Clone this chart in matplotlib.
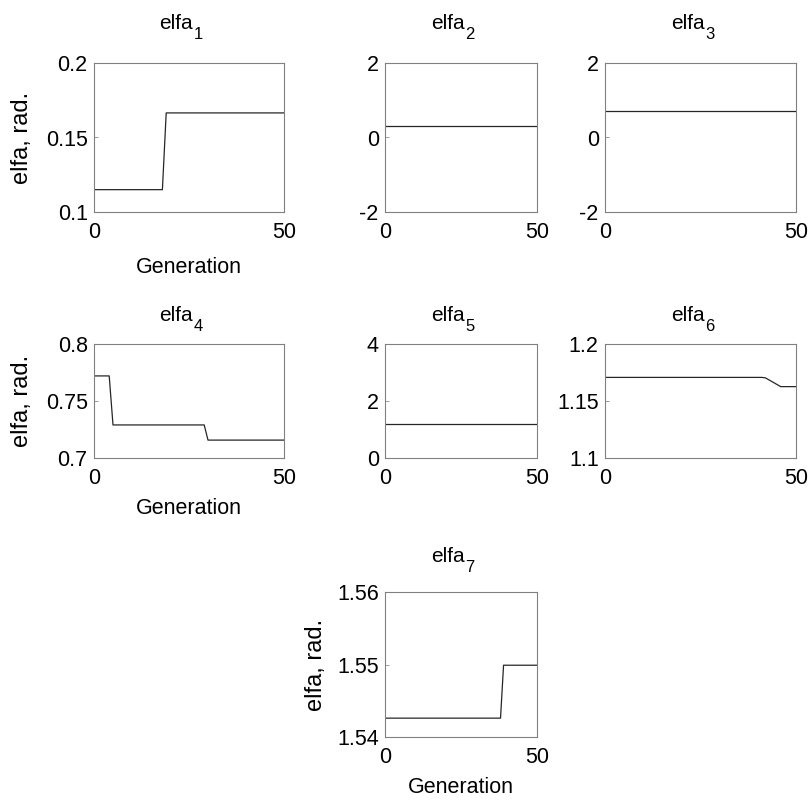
# elfa angles vs generation, 7 small panels in MATLAB style
import matplotlib
matplotlib.use("Agg")
import matplotlib.pyplot as plt

plt.rcParams['font.family'] = ['Liberation Sans', 'DejaVu Sans']

# polyline vertices (generation, value)
gen1 = [0, 18, 19, 50]
elfa1 = [0.115, 0.115, 0.1665, 0.1665]
gen2 = [0, 50]
elfa2 = [0.31, 0.31]
gen3 = [0, 50]
elfa3 = [0.70, 0.70]
gen4 = [0, 4, 5, 29, 30, 50]
elfa4 = [0.772, 0.772, 0.729, 0.729, 0.7157, 0.7157]
gen5 = [0, 50]
elfa5 = [1.2, 1.2]
gen6 = [0, 41, 42, 46, 50]
elfa6 = [1.1707, 1.1707, 1.1703, 1.1626, 1.1626]
gen7 = [0, 38, 39, 50]
elfa7 = [1.5426, 1.5426, 1.5499, 1.5499]

yticks = [[0.1, 0.15, 0.2], [-2, 0, 2], [-2, 0, 2], [0.7, 0.75, 0.8],
          [0, 2, 4], [1.1, 1.15, 1.2], [1.54, 1.55, 1.56]]
ylabels = [['0.1', '0.15', '0.2'], ['-2', '0', '2'], ['-2', '0', '2'],
           ['0.7', '0.75', '0.8'], ['0', '2', '4'], ['1.1', '1.15', '1.2'],
           ['1.54', '1.55', '1.56']]
xticks = [0, 50]

gens = [gen1, gen2, gen3, gen4, gen5, gen6, gen7]
vals = [elfa1, elfa2, elfa3, elfa4, elfa5, elfa6, elfa7]

W, H = 809, 805
fig = plt.figure(figsize=(W / 100, H / 100), dpi=100)

cols = [(94, 284), (385, 537), (605, 796)]
# (top, bottom, title pad pt, xlabel pad pt)
rows = [(63, 212, 24.5, 10), (344, 458, 16.5, 6), (592, 737, 21.6, 6)]
slots = [(0, 0), (0, 1), (0, 2), (1, 0), (1, 1), (1, 2), (2, 1)]
withLabels = [0, 3, 6]

for i, (r, c) in enumerate(slots):
    l, rgt = cols[c]
    top, bot, tpad, xpad = rows[r]
    ax = fig.add_axes([l / W, (H - bot) / H, (rgt - l) / W, (bot - top) / H])
    ax.plot(gens[i], vals[i], color='0.15', linewidth=0.9)
    ax.set_xlim(0, 50)
    ax.set_ylim(yticks[i][0], yticks[i][-1])
    ax.set_xticks(xticks)
    ax.set_xticklabels([str(x) for x in xticks])
    ax.set_yticks(yticks[i])
    ax.set_yticklabels(ylabels[i])
    ax.tick_params(direction='in', length=3, width=0.6, color='0.55',
                   labelsize=15.5)
    ax.tick_params(axis='x', pad=7.5)
    ax.tick_params(axis='y', pad=4.5)
    for s in ax.spines.values():
        s.set_color('0.5')
        s.set_linewidth(0.8)
    # title with MATLAB-like large, low subscript
    ax.annotate('elfa', xy=(0.5, 1), xycoords='axes fraction',
                xytext=(3, tpad), textcoords='offset points',
                ha='right', va='baseline', fontsize=15)
    ax.annotate(str(i + 1), xy=(0.5, 1), xycoords='axes fraction',
                xytext=(3.3, tpad - 7.2), textcoords='offset points',
                ha='left', va='baseline', fontsize=12)
    if i in withLabels:
        ax.set_xlabel('Generation', fontsize=15.5, labelpad=xpad)
        ax.set_ylabel('elfa, rad.', fontsize=17)
        ax.yaxis.set_label_coords(-(l - 33 if c == 0 else l - 327) / (rgt - l), 0.5)

fig.savefig('out.png', dpi=100)
